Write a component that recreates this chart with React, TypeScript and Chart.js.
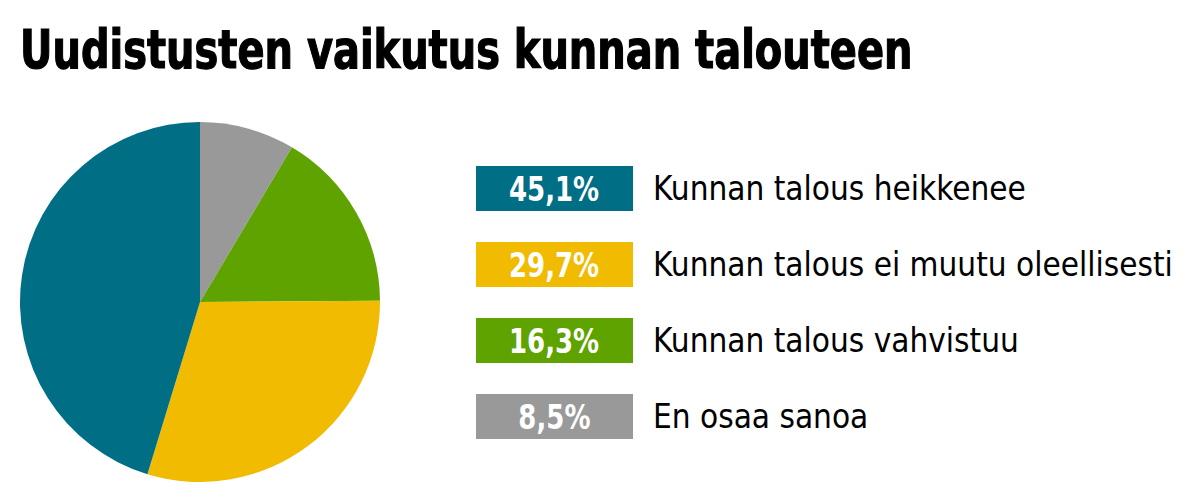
import React, { useEffect, useRef } from "react";
import { Chart, registerables } from "chart.js";

Chart.register(...registerables);

const title = "Uudistusten vaikutus kunnan talouteen";
const categories = [
  "En osaa sanoa",
  "Kunnan talous vahvistuu",
  "Kunnan talous ei muutu oleellisesti",
  "Kunnan talous heikkenee",
];
const values = [8.5, 16.3, 29.7, 45.1];
const valueLabels = ["8,5%", "16,3%", "29,7%", "45,1%"];
const colors = ["#999999", "#5fa300", "#f0bb00", "#006e85"];
// legend shown top-to-bottom in this order (indices into the arrays above)
const legendOrder = [3, 2, 1, 0];

export default function App() {
  const ref = useRef<HTMLCanvasElement | null>(null);

  useEffect(() => {
    document.body.style.margin = "0";
    const chart = new Chart(ref.current!, {
      type: "pie",
      data: {
        labels: categories,
        datasets: [
          {
            data: values,
            backgroundColor: colors,
            borderWidth: 0,
          },
        ],
      },
      options: {
        animation: false,
        responsive: false,
        maintainAspectRatio: false,
        layout: { padding: 0 },
        plugins: {
          legend: { display: false },
          tooltip: { enabled: false },
        },
      },
    });
    return () => chart.destroy();
  }, []);

  const font = "'DejaVu Sans Condensed', 'Liberation Sans Narrow', sans-serif";

  return (
    <div
      style={{
        position: "relative",
        width: 1197,
        height: 501,
        background: "#ffffff",
        overflow: "hidden",
      }}
    >
      <div
        style={{
          position: "absolute",
          left: 20,
          top: 14,
          fontFamily: font,
          fontWeight: 900,
          fontSize: 53,
          lineHeight: "72px",
          color: "#000",
          whiteSpace: "nowrap",
          transform: "scaleX(0.838)",
          transformOrigin: "left center",
          WebkitTextStroke: "1.2px #000",
        }}
      >
        {title}
      </div>
      <canvas
        ref={ref}
        width={360}
        height={360}
        style={{ position: "absolute", left: 20, top: 122, width: 360, height: 360 }}
      />
      {legendOrder.map((idx, i) => (
        <div
          key={idx}
          style={{
            position: "absolute",
            left: 476,
            top: 166 + i * 76,
            height: 45,
            display: "flex",
            alignItems: "center",
            whiteSpace: "nowrap",
          }}
        >
          <div
            style={{
              width: 157,
              height: 45,
              background: colors[idx],
              display: "flex",
              alignItems: "center",
              justifyContent: "center",
            }}
          >
            <span
              style={{
                color: "#fff",
                fontFamily: font,
                fontWeight: 700,
                fontSize: 34,
                display: "inline-block",
                transform: "scaleX(0.85)",
              }}
            >
              {valueLabels[idx]}
            </span>
          </div>
          <div
            style={{
              marginLeft: 20,
              fontFamily: font,
              fontSize: 33,
              color: "#000",
            }}
          >
            {categories[idx]}
          </div>
        </div>
      ))}
    </div>
  );
}
